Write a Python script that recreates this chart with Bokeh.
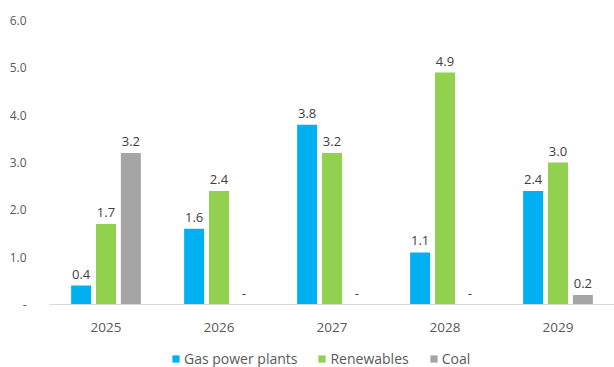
from bokeh.plotting import figure
from bokeh.layouts import column
from bokeh.models import ColumnDataSource, FactorRange, FixedTicker, LabelSet, Legend, LegendItem, Range1d
from bokeh.core.properties import value
from bokeh.transform import dodge
from bokeh.embed import file_html
from bokeh.resources import INLINE

years = ["2025", "2026", "2027", "2028", "2029"]
gas = [0.4, 1.6, 3.8, 1.1, 2.4]
renewables = [1.7, 2.4, 3.2, 4.9, 3.0]
coal = [3.2, 0.0, 0.0, 0.0, 0.2]
series_names = ["Gas power plants", "Renewables", "Coal"]
colors = ["#00B0F0", "#92D050", "#A5A5A5"]
y_ticks = [0, 1, 2, 3, 4, 5, 6]

def fmt(v):
    return "-" if v == 0 else f"{v:.1f}"

FONT = "Open Sans"
TXT = "#595959"

p = figure(x_range=FactorRange(*years, range_padding=0), y_range=(0, 6),
           width=614, height=334, output_backend="svg", toolbar_location=None,
           min_border_top=20, min_border_left=49, min_border_right=0, min_border_bottom=30)
p.outline_line_color = None
p.xgrid.grid_line_color = None
p.ygrid.grid_line_color = None

offsets = [-0.22, 0.0, 0.22]
bw = 0.177
for name, vals, col, off in zip(series_names, [gas, renewables, coal], colors, offsets):
    src = ColumnDataSource(dict(year=years, v=vals, lab=[fmt(v) for v in vals]))
    p.vbar(x=dodge("year", off, range=p.x_range), top="v", width=bw, source=src,
           fill_color=col, line_color=None)
    ls = LabelSet(x=dodge("year", off, range=p.x_range), y="v", text="lab", source=src,
                  text_align="center", text_baseline="bottom", y_offset=7,
                  text_font=value(FONT), text_font_size=value("13px"), text_color=value("#404040"))
    p.add_layout(ls)

p.yaxis.ticker = FixedTicker(ticks=y_ticks)
p.yaxis.major_label_overrides = {t: ("-" if t == 0 else f"{t:.1f}") for t in y_ticks}
p.yaxis.axis_line_color = None
p.yaxis.major_tick_line_color = None
p.yaxis.minor_tick_line_color = None
p.yaxis.major_label_standoff = 17
p.yaxis.major_label_text_font = FONT
p.yaxis.major_label_text_font_size = "12px"
p.yaxis.major_label_text_color = TXT

p.xaxis.axis_line_color = "#D9D9D9"
p.xaxis.major_tick_line_color = None
p.xaxis.minor_tick_line_color = None
p.xaxis.major_label_standoff = 12
p.xaxis.major_label_text_font = FONT
p.xaxis.major_label_text_font_size = "13.5px"
p.xaxis.major_label_text_color = TXT

# legend strip
lg = figure(width=614, height=33, output_backend="svg", toolbar_location=None,
            x_range=Range1d(0, 1), y_range=Range1d(0, 1),
            x_axis_location=None, y_axis_location=None,
            min_border_top=0, min_border_left=0, min_border_right=0, min_border_bottom=0)
lg.outline_line_color = None
lg.xgrid.grid_line_color = None
lg.ygrid.grid_line_color = None
items = []
for name, col in zip(series_names, colors):
    r = lg.vbar(x=[-5], top=[-5], bottom=[-6], width=0.1, fill_color=col, line_color=None)
    items.append(LegendItem(label=name, renderers=[r]))
legend = Legend(items=items, orientation="horizontal", location=(122, -1),
                label_text_font=FONT, label_text_font_size="14px", label_text_color=TXT,
                glyph_width=9, glyph_height=9, label_standoff=4, spacing=20,
                padding=0, margin=0, border_line_color=None, background_fill_alpha=0)
lg.add_layout(legend, "center")

layout = column(p, lg, spacing=0)
open("out.html", "w").write(file_html(layout, INLINE))
